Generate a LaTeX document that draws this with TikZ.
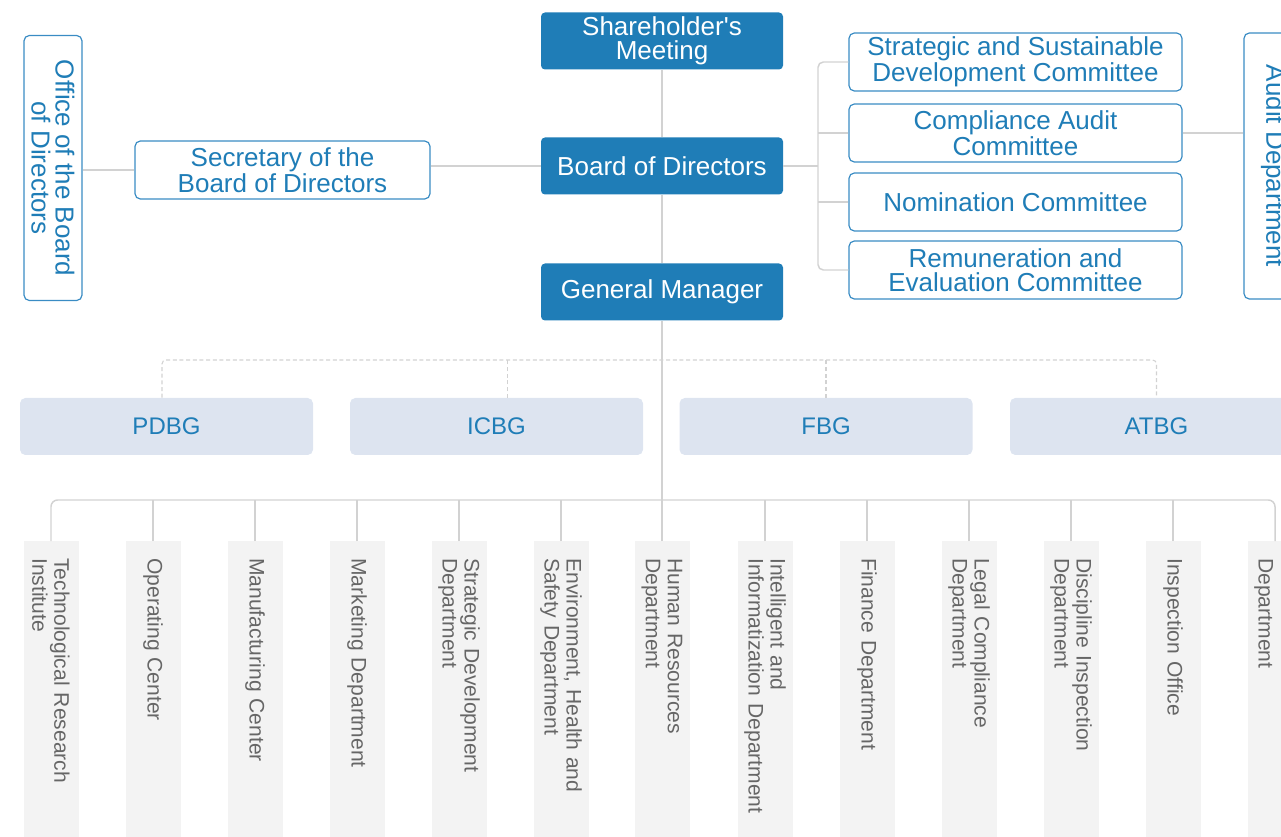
\documentclass[tikz,border=0pt]{standalone}
\usepackage{fontspec}
\setmainfont{Liberation Sans}
\definecolor{topblue}{HTML}{1F7DB7}
\definecolor{edgeblue}{HTML}{3A8CC4}
\definecolor{groupfill}{HTML}{DDE4F0}
\definecolor{colfill}{HTML}{F3F3F3}
\definecolor{linegray}{HTML}{D2D2D2}
\definecolor{deptgray}{HTML}{666666}
\begin{document}
\begin{tikzpicture}[x=0.75pt,y=-0.75pt,
    topbox/.style={fill=topblue, text=white, rounded corners=3pt, minimum width=181.5pt, minimum height=42.75pt, align=center, inner sep=0pt, font=\fontsize{19.5}{18}\selectfont},
    sidebox/.style={draw=edgeblue, line width=0.9pt, fill=white, text=topblue, rounded corners=4pt, align=center, inner sep=0pt, font=\fontsize{19.5}{18}\selectfont},
    groupbox/.style={fill=groupfill, text=topblue, rounded corners=4pt, minimum width=219.75pt, minimum height=42.75pt, inner sep=0pt, font=\fontsize{18}{18}\selectfont},
    deptbox/.style={fill=colfill, text=deptgray, rotate=-90, anchor=west, minimum width=240pt, minimum height=41.25pt, text width=214.5pt, inner xsep=12.75pt, inner ysep=0pt, align=left, font=\fontsize{15.8}{16.5}\selectfont},
    link/.style={draw=linegray, line width=1.1pt},
    dashlink/.style={draw=linegray, line width=0.8pt, dash pattern=on 3pt off 2pt}]
    \useasboundingbox (0,0) rectangle (1281,837);
    \clip (0,0) rectangle (1281,837);

    \node[topbox] (share) at (662,41) {Shareholder\textquotesingle s\\Meeting};
    \node[topbox] (board) at (662,166) {Board of Directors};
    \node[topbox] (gm) at (662,292) {General Manager};
    \node[sidebox, minimum width=221.25pt, minimum height=43.5pt] (sec) at (282.5,170) {Secretary of the\\Board of Directors};
    \node[sidebox, rotate=-90, minimum width=198.75pt, minimum height=43.5pt] (office) at (53,168) {Office of the Board\\of Directors};
    \node[sidebox, minimum width=249.75pt, minimum height=43.5pt] (ssdc) at (1015.5,62) {Strategic and Sustainable\\Development Committee};
    \node[sidebox, minimum width=249.75pt, minimum height=43.5pt] (cac) at (1015.5,133) {Compliance Audit\\Committee};
    \node[sidebox, minimum width=249.75pt, minimum height=43.5pt] (nom) at (1015.5,202) {Nomination Committee};
    \node[sidebox, minimum width=249.75pt, minimum height=43.5pt] (rec) at (1015.5,270) {Remuneration and\\Evaluation Committee};
    \node[sidebox, rotate=-90, minimum width=199.5pt, minimum height=43.5pt] (audit) at (1273,166) {Audit Department};

    \node[groupbox] (pdbg) at (166.5,426.5) {PDBG};
    \node[groupbox] (icbg) at (496.5,426.5) {ICBG};
    \node[groupbox] (fbg) at (826,426.5) {FBG};
    \node[groupbox] (atbg) at (1156.5,426.5) {ATBG};

    \node[deptbox] (d1) at (51,541) {Technological Research\\Institute};
    \node[deptbox] (d2) at (153,541) {Operating Center};
    \node[deptbox] (d3) at (255,541) {Manufacturing Center};
    \node[deptbox] (d4) at (357,541) {Marketing Department};
    \node[deptbox] (d5) at (459,541) {Strategic Development\\Department};
    \node[deptbox] (d6) at (561,541) {Environment, Health and\\Safety Department};
    \node[deptbox] (d7) at (662,541) {Human Resources\\Department};
    \node[deptbox] (d8) at (765,541) {Intelligent and\\Informatization Department};
    \node[deptbox] (d9) at (867,541) {Finance Department};
    \node[deptbox] (d10) at (969,541) {Legal Compliance\\Department};
    \node[deptbox] (d11) at (1071,541) {Discipline Inspection\\Department};
    \node[deptbox] (d12) at (1173,541) {Inspection Office};
    \node[deptbox] (d13) at (1275,541) {\strut\\Department};

    \coordinate (bus) at (662,500);
    \coordinate (dbus) at (662,360);
    \coordinate (brk) at (818,166);
    \coordinate (pddrop) at ([xshift=-3.4pt]pdbg.north);
    \coordinate (icdrop) at ([xshift=7.9pt]icbg.north);

    \draw[link] (share) -- (board) -- (gm) -- (bus);
    \draw[link] (board.west) -- (board.west -| sec.east);
    \draw[link] (sec.west) -- (sec.west -| office.north);
    \draw[link] (board.east) -- (brk);
    \draw[link, rounded corners=4pt] (ssdc.west) -| (brk) |- (rec.west);
    \draw[link] (cac.west) -- (cac.west -| brk);
    \draw[link] (nom.west) -- (nom.west -| brk);
    \draw[link] (cac.east) -- (cac.east -| audit.south);

    \draw[dashlink, rounded corners=3pt] (pddrop) |- (dbus) -| (atbg.north);
    \draw[dashlink] (icdrop) -- (icdrop |- dbus);
    \draw[dashlink] (fbg.north) -- (fbg.north |- dbus);

    \draw[link, rounded corners=5pt] (d1.west) |- (bus) -| (d13.west);
    \draw[link] (d2.west) -- (d2.west |- bus);
    \draw[link] (d3.west) -- (d3.west |- bus);
    \draw[link] (d4.west) -- (d4.west |- bus);
    \draw[link] (d5.west) -- (d5.west |- bus);
    \draw[link] (d6.west) -- (d6.west |- bus);
    \draw[link] (d7.west) -- (d7.west |- bus);
    \draw[link] (d8.west) -- (d8.west |- bus);
    \draw[link] (d9.west) -- (d9.west |- bus);
    \draw[link] (d10.west) -- (d10.west |- bus);
    \draw[link] (d11.west) -- (d11.west |- bus);
    \draw[link] (d12.west) -- (d12.west |- bus);

\end{tikzpicture}
\end{document}
